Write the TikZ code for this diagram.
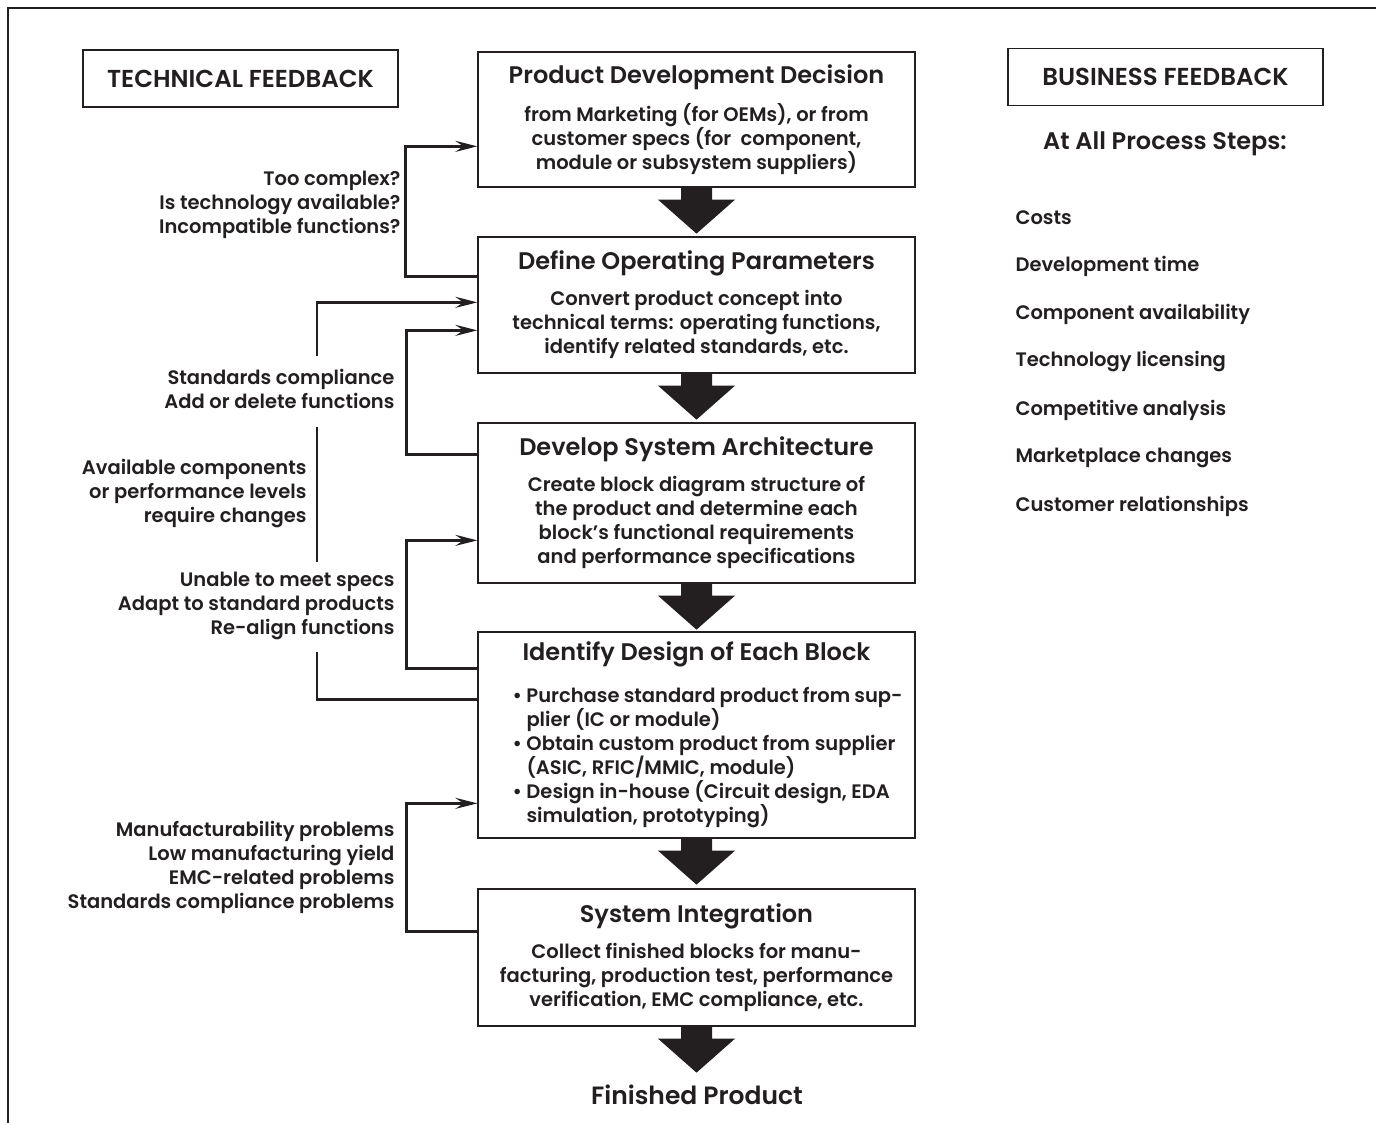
\documentclass[tikz,border=0pt]{standalone}
\usepackage{fontspec}
\setmainfont{Poppins}[UprightFont=* SemiBold,BoldFont=* Bold]
\usetikzlibrary{arrows.meta}

\definecolor{ink}{HTML}{231F20}
\tikzset{
  stepbox/.style={draw=ink,line width=1.3pt,minimum width=437pt,align=center,inner sep=0pt,text=ink,font=\fontsize{19.5}{24}\selectfont},
  headbox/.style={draw=ink,line width=1.3pt,minimum width=315pt,minimum height=57pt,text=ink,font=\fontsize{24.5}{27}\selectfont},
  fbtext/.style={anchor=east,align=right,text=ink,font=\fontsize{19.5}{24}\selectfont},
  listitem/.style={anchor=west,text=ink,font=\fontsize{19.5}{24}\selectfont},
  fbline/.style={draw=ink,line width=2.4pt},
  fbarrow/.style={fbline,-{Stealth[length=22pt,width=11pt,inset=8pt]}},
}
\newcommand{\steptitle}[1]{{\fontsize{24}{27}\selectfont #1}\\[12pt]}
\newcommand{\bitem}{\makebox[14pt][l]{\textbullet}}
% thick block arrow hanging below a box
\newcommand{\bigdown}[1]{\fill[ink] (#1) ++(-15.5,0) -- ++(0,12) -- ++(-23,0) -- ++(38.5,34) -- ++(38.5,-34) -- ++(-23,0) -- ++(0,-12) -- cycle;}

\begin{document}
\begin{tikzpicture}[x=1pt,y=-1pt]
\useasboundingbox (0,0) rectangle (1376,1123);
\draw[ink,line width=1.3pt] (8,1123) -- (8,8) -- (1376,8);

% headers
\node[headbox] (tech) at (240.5,78.5) {TECHNICAL FEEDBACK};
\node[headbox] (bus) at (1165.5,77) {BUSINESS FEEDBACK};

% process steps
\node[stepbox,minimum height=135pt] (b1) at (696.5,119.5) {\steptitle{Product Development Decision}
from Marketing (for OEMs), or from\\customer specs (for\ \ component,\\module or subsystem suppliers)};
\node[stepbox,minimum height=136pt] (b2) at (696.5,305) {\steptitle{Define Operating Parameters}
Convert product concept into\\technical terms: operating functions,\\identify related standards, etc.};
\node[stepbox,minimum height=160pt] (b3) at (696.5,503) {\steptitle{Develop System Architecture}
Create block diagram structure of\\the product and determine each\\block's functional requirements\\and performance specifications};
\node[stepbox,minimum height=206pt] (b4) at (696.5,735) {{\fontsize{24}{27}\selectfont Identify Design of Each Block}\\[18pt]
\hspace*{22pt}\parbox[t]{390pt}{\raggedright
\bitem Purchase standard product from sup-\\
\hspace*{14pt}plier (IC or module)\\
\bitem Obtain custom product from supplier\\
\hspace*{14pt}(ASIC, RFIC/MMIC, module)\\
\bitem Design in-house (Circuit design, EDA\\
\hspace*{14pt}simulation, prototyping)}};
\node[stepbox,minimum height=137pt] (b5) at (696.5,957.5) {\steptitle{System Integration}
Collect finished blocks for manu-\\facturing, production test, performance\\verification, EMC compliance, etc.};
\node[text=ink,font=\fontsize{25}{28}\selectfont] (fin) at (697,1095) {Finished Product};

\bigdown{b1.south}
\bigdown{b2.south}
\bigdown{b3.south}
\bigdown{b4.south}
\bigdown{b5.south}

% technical feedback
\node[fbtext] (t1) at (404,205) {Too complex?\\Is technology available?\\Incompatible functions?};
\node[fbtext] (t2) at (398,389) {Standards compliance\\Add or delete functions};
\node[fbtext] (t3) at (310,494) {Available components\\or performance levels\\require changes};
\node[fbtext] (t4) at (398,606) {Unable to meet specs\\Adapt to standard products\\Re-align functions};
\node[fbtext] (t5) at (398,867) {Manufacturability problems\\Low manufacturing yield\\EMC-related problems\\Standards compliance problems};

\draw[fbarrow] ([yshift=-40pt]b2.north west) -- ++(-72,0) |- ([yshift=-95pt]b1.north west);
\draw[fbarrow] ([yshift=-32pt]b3.north west) -- ++(-71,0) |- ([yshift=-94pt]b2.north west);
\draw[fbarrow] ([yshift=-37pt]b4.north west) -- ++(-71,0) |- ([yshift=-118pt]b3.north west);
\draw[fbarrow] ([yshift=-43pt]b5.north west) -- ++(-71,0) |- ([yshift=-172pt]b4.north west);

% long loop, broken round the labels
\coordinate (o1) at (317,652);
\coordinate (o2) at (317,562);
\coordinate (o3) at (317,427);
\coordinate (o4) at (317,356);
\draw[fbline] ([yshift=-68pt]b4.north west) -| (o1);
\draw[fbline] (o2) -- (o3);
\draw[fbarrow] (o4) |- ([yshift=-66pt]b2.north west);

% business feedback
\node[text=ink,font=\fontsize{24}{27}\selectfont] (steps) at (1165,144) {At All Process Steps:};
\node[listitem] (c1) at (1012,218) {Costs};
\node[listitem] (c2) at (1012,266) {Development time};
\node[listitem] (c3) at (1012,314) {Component availability};
\node[listitem] (c4) at (1012,362) {Technology licensing};
\node[listitem] (c5) at (1012,410) {Competitive analysis};
\node[listitem] (c6) at (1012,458) {Marketplace changes};
\node[listitem] (c7) at (1012,506) {Customer relationships};
\end{tikzpicture}
\end{document}
